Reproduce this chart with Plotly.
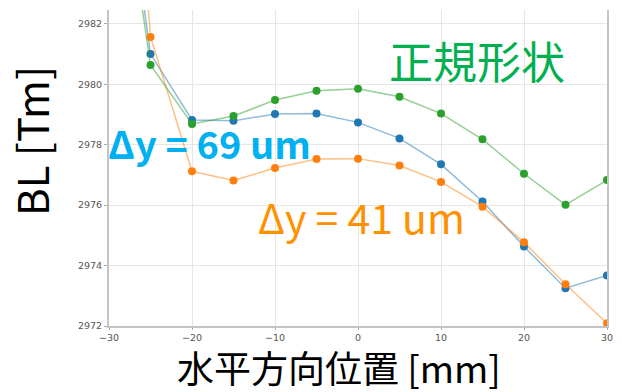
import plotly.graph_objects as go

# Horizontal position [mm]
x_pos = [-30, -25, -20, -15, -10, -5, 0, 5, 10, 15, 20, 25, 30]

# BL [Tm] for the three shapes
bl_blue = [2991.0, 2981.0, 2978.82, 2978.79, 2979.02, 2979.03, 2978.74,
           2978.21, 2977.35, 2976.12, 2974.63, 2973.25, 2973.67]
bl_orange = [2999.0, 2981.57, 2977.12, 2976.82, 2977.23, 2977.53, 2977.54,
             2977.31, 2976.77, 2975.95, 2974.77, 2973.38, 2972.09]
bl_green = [2990.0, 2980.64, 2978.69, 2978.95, 2979.48, 2979.79, 2979.85,
            2979.59, 2979.03, 2978.18, 2977.04, 2976.01, 2976.83]

x_ticks = [-30, -20, -10, 0, 10, 20, 30]
y_ticks = [2972, 2974, 2976, 2978, 2980, 2982]

series = [
    (bl_blue, "31,119,180"),
    (bl_orange, "255,127,14"),
    (bl_green, "44,160,44"),
]

fig = go.Figure()
for vals, rgb in series:
    fig.add_trace(go.Scatter(
        x=x_pos, y=vals, mode="lines+markers",
        line=dict(color=f"rgba({rgb},0.5)", width=1.5),
        marker=dict(color=f"rgb({rgb})", size=8),
        showlegend=False, cliponaxis=True,
    ))

tick_font = dict(family="DejaVu Sans", size=9.5, color="#555555")
big = "Noto Sans CJK JP"

fig.update_layout(
    width=622, height=392,
    margin=dict(l=109, r=9, t=10, b=66),
    paper_bgcolor="white", plot_bgcolor="white",
    xaxis=dict(
        range=[-30, 30], tickvals=x_ticks, tickfont=tick_font,
        showgrid=True, gridcolor="#e6e6e6", gridwidth=1,
        showline=True, linecolor="#c4c4c4", linewidth=2,
        ticks="outside", ticklen=2, tickcolor="#aaaaaa", zeroline=False,
    ),
    yaxis=dict(
        range=[2972, 2982.46], tickvals=y_ticks, tickfont=tick_font,
        showgrid=True, gridcolor="#e6e6e6", gridwidth=1,
        showline=True, linecolor="#c4c4c4", linewidth=2, mirror=True,
        ticks="outside", ticklen=3, tickcolor="#aaaaaa", zeroline=False,
    ),
)

annotations = [
    dict(text="正規形状", x=0.738, y=0.843, xanchor="center", yanchor="middle",
         font=dict(family=big, size=44, color="#00B050")),
    dict(text="<b>Δy = 69 um</b>", x=-0.006, y=0.580, xanchor="left", yanchor="middle",
         font=dict(family=big, size=38, color="#00B0F0")),
    dict(text="Δy = 41 um", x=0.2956, y=0.349, xanchor="left", yanchor="middle",
         font=dict(family=big, size=41, color="#FF9000")),
    dict(text="水平方向位置 [mm]", x=0.462, y=-0.130, xanchor="center", yanchor="middle",
         font=dict(family=big, size=37, color="black")),
    dict(text="BL [Tm]", x=-0.159, y=0.585, xanchor="center", yanchor="middle",
         textangle=-90, font=dict(family=big, size=42, color="black")),
]
for a in annotations:
    fig.add_annotation(xref="paper", yref="paper", showarrow=False, **a)

fig.write_html("out.html")
